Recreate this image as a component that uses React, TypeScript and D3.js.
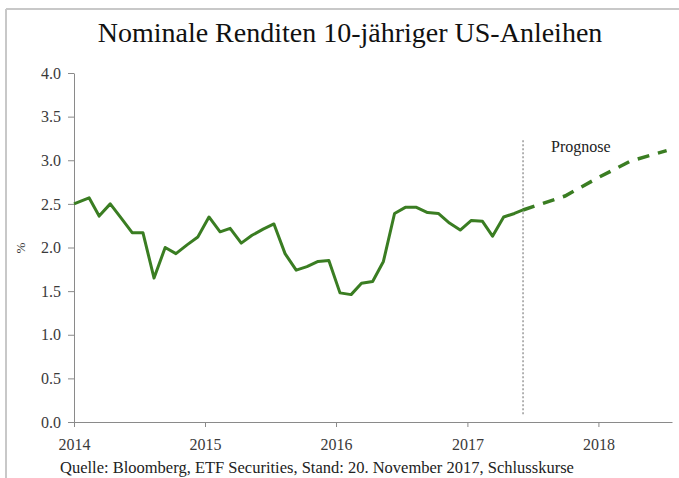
import * as React from 'react';
import { axisBottom, axisLeft, format, line, scaleLinear, scaleTime, select, timeParse, timeYear } from 'd3';

// monthly yields (%)
const actualDates = [
    "2014-01-01", "2014-02-12", "2014-03-12", "2014-04-12", "2014-05-12", "2014-06-12", "2014-07-12",
    "2014-08-12", "2014-09-12", "2014-10-12", "2014-11-12", "2014-12-12",
    "2015-01-12", "2015-02-12", "2015-03-12", "2015-04-12", "2015-05-12", "2015-06-12", "2015-07-12",
    "2015-08-12", "2015-09-12", "2015-10-12", "2015-11-12", "2015-12-12",
    "2016-01-12", "2016-02-12", "2016-03-12", "2016-04-12", "2016-05-12", "2016-06-12", "2016-07-12",
    "2016-08-12", "2016-09-12", "2016-10-12", "2016-11-12", "2016-12-12",
    "2017-01-12", "2017-02-12", "2017-03-12", "2017-04-12", "2017-05-12", "2017-06-05"
];
const actualValues = [
    2.50, 2.57, 2.36, 2.50, 2.34, 2.17, 2.17, 1.65, 2.00, 1.93, 2.03, 2.12,
    2.35, 2.18, 2.22, 2.05, 2.14, 2.21, 2.27, 1.93, 1.74, 1.78, 1.84, 1.85,
    1.48, 1.46, 1.59, 1.61, 1.84, 2.39, 2.46, 2.46, 2.40, 2.39, 2.28, 2.20,
    2.31, 2.30, 2.13, 2.35, 2.39, 2.43
];

const forecastDates = ["2017-06-05", "2017-09-30", "2017-12-31", "2018-03-31", "2018-07-10"];
const forecastValues = [2.43, 2.59, 2.80, 2.99, 3.11];

const forecastStart = "2017-06-05";
const xDomain = ["2014-01-01", "2018-07-25"];
const yTicks = [0, 0.5, 1, 1.5, 2, 2.5, 3, 3.5, 4];

const title = "Nominale Renditen 10-jähriger US-Anleihen";
const source = "Quelle: Bloomberg, ETF Securities, Stand: 20. November 2017, Schlusskurse";

const green = "#3a7d22";
const serif = "'Liberation Serif', 'DejaVu Serif', serif";

const parse = timeParse("%Y-%m-%d");

const App = () => {
    const svgRef = React.useRef<SVGSVGElement>(null);

    React.useEffect(() => {
        const svg = select(svgRef.current);
        const margin = { top: 73, left: 74, bottom: 422, right: 672 };

        const x = scaleTime()
            .domain(xDomain.map(d => parse(d)!))
            .range([margin.left, margin.right]);
        const y = scaleLinear().domain([0, 4]).range([margin.bottom, margin.top]);

        const xAxis = axisBottom(x).ticks(timeYear.every(1)).tickSize(5).tickSizeOuter(0).tickPadding(12) as any;
        const yAxis = axisLeft(y).tickValues(yTicks).tickFormat(format(".1f") as any).tickSize(6).tickSizeOuter(0).tickPadding(7) as any;

        const gx = svg.select(".x-axis").attr("transform", `translate(0, ${margin.bottom})`).call(xAxis);
        const gy = svg.select(".y-axis").attr("transform", `translate(${margin.left}, 0)`).call(yAxis);

        [gx, gy].forEach(g => {
            g.selectAll("path, line").attr("stroke", "#8a8a8a");
            g.selectAll("text").attr("fill", "#3a3a3a").style("font-family", serif).style("font-size", "16px");
        });

        const lineGen = line<[Date, number]>().x(d => x(d[0])).y(d => y(d[1]));
        const actual = actualDates.map((d, i) => [parse(d)!, actualValues[i]] as [Date, number]);
        const forecast = forecastDates.map((d, i) => [parse(d)!, forecastValues[i]] as [Date, number]);

        svg.select(".actual").attr("d", lineGen(actual));
        svg.select(".forecast").attr("d", lineGen(forecast));

        const fx = x(parse(forecastStart)!);
        svg.select(".divider")
            .attr("x1", fx).attr("x2", fx)
            .attr("y1", y(3.23)).attr("y2", y(0.07));
        svg.select(".prognose").attr("x", fx + 28).attr("y", y(3.1));
    }, []);

    return (
        <div>
            <style>{"body{margin:0}"}</style>
            <svg ref={svgRef} width={679} height={478} style={{ display: 'block', background: '#fff' }}>
                <line x1={6} x2={679} y1={9} y2={9} stroke="#c8c8c8" strokeWidth={2} />
                <line x1={6} x2={6} y1={9} y2={478} stroke="#c8c8c8" strokeWidth={2} />
                <text x={350} y={42} textAnchor="middle" fontFamily={serif} fontSize={28} fill="#111">{title}</text>
                <text transform="translate(25, 248) rotate(-90)" textAnchor="middle" fontFamily={serif} fontSize={13} fill="#3a3a3a">%</text>
                <g className="x-axis" />
                <g className="y-axis" />
                <line className="divider" stroke="#8a8a8a" strokeWidth={1.3} strokeDasharray="2,2" />
                <text className="prognose" fontFamily={serif} fontSize={16} fill="#222">Prognose</text>
                <path className="actual" fill="none" stroke={green} strokeWidth={3} strokeLinejoin="round" />
                <path className="forecast" fill="none" stroke={green} strokeWidth={3.5} strokeDasharray="12,9" />
                <text x={60} y={473} fontFamily={serif} fontSize={16.5} fill="#222">{source}</text>
            </svg>
        </div>
    );
};

export default App;
